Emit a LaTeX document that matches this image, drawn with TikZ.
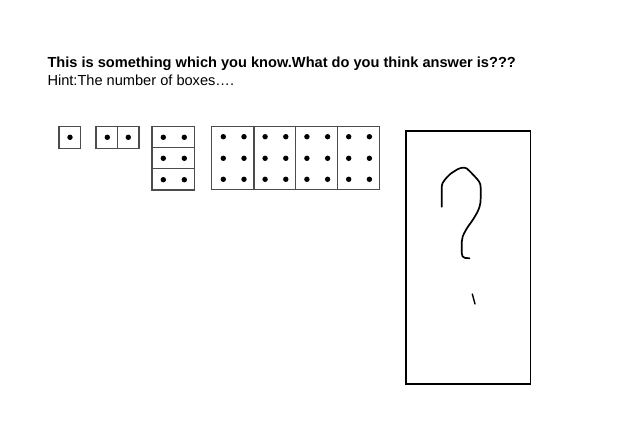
\documentclass[tikz,border=0pt]{standalone}
\usepackage{fontspec}
\setmainfont{Liberation Sans}
\begin{document}
\begin{tikzpicture}[x=1pt,y=-1pt,
  cell/.style={draw=black!70,line width=1.1pt},
  dot/.style={fill=black},
  bigbox/.style={draw=black,line width=1.6pt},
  hand/.style={draw=black,line width=1.7pt,line cap=round,line join=round}]
\useasboundingbox (0,0) rectangle (638,423);
\node[anchor=base west,inner sep=0pt,font=\bfseries\fontsize{14.6}{17}\selectfont] (title) at (47.3,67) {This is something which you know.What do you think answer is???};
\node[anchor=base west,inner sep=0pt,font=\fontsize{14.6}{17}\selectfont] (hint) at (47.3,85.7) {Hint:The number of boxes….};
% box 1
\draw[cell] (59,126.3) rectangle (80.7,148.3);
\fill[dot] (70,137.3) circle (2.7);
% box 2
\draw[cell] (96,126.3) rectangle (139,148.3);
\draw[cell] (117.5,126.3) -- (117.5,148.3);
\foreach \x in {107.3,128.3} \fill[dot] (\x,137.3) circle (2.7);
% box 3
\draw[cell] (152,126.3) rectangle (194.7,190);
\draw[cell] (152,147.8) -- (194.7,147.8);
\draw[cell] (152,168.7) -- (194.7,168.7);
\foreach \y in {137.3,158.3,179.7} \foreach \x in {163.3,184.3} \fill[dot] (\x,\y) circle (2.7);
% box 4
\draw[cell] (211.7,126.3) rectangle (379.3,189.3);
\foreach \x in {254,295.7,337.3} \draw[cell] (\x,126.3) -- (\x,189.3);
\foreach \i in {0,1,2,3} \foreach \y in {136.7,158.3,179.3} {
  \fill[dot] (223.3+41.8*\i,\y) circle (2.7);
  \fill[dot] (244+41.8*\i,\y) circle (2.7);
}
% answer box
\draw[bigbox] (406,130.7) rectangle (530.3,384);
\draw[hand] (441.7,206.7) -- (441.7,188.3)
  .. controls (441.7,184) and (443,181.5) .. (445,179.5)
  .. controls (448,176) and (451,173) .. (454,171.5)
  .. controls (457,169.5) and (460,167.7) .. (462,167.7)
  .. controls (464,167.7) and (465.5,167.5) .. (467,168.6)
  .. controls (470,171.5) and (473,174.5) .. (475,176.7)
  .. controls (479,181) and (480.7,183) .. (480.7,188)
  -- (480.7,198)
  .. controls (480.7,205) and (479,209) .. (476.7,213.3)
  .. controls (472,222) and (468,226) .. (466.2,229.5)
  .. controls (463,235) and (461.7,238) .. (461.7,242)
  -- (461.7,253)
  .. controls (461.7,256) and (463,257.6) .. (465,257.9)
  -- (469.5,258.3);
\draw[hand,line width=1.4pt] (472.3,294) -- (475,304);
\end{tikzpicture}
\end{document}
